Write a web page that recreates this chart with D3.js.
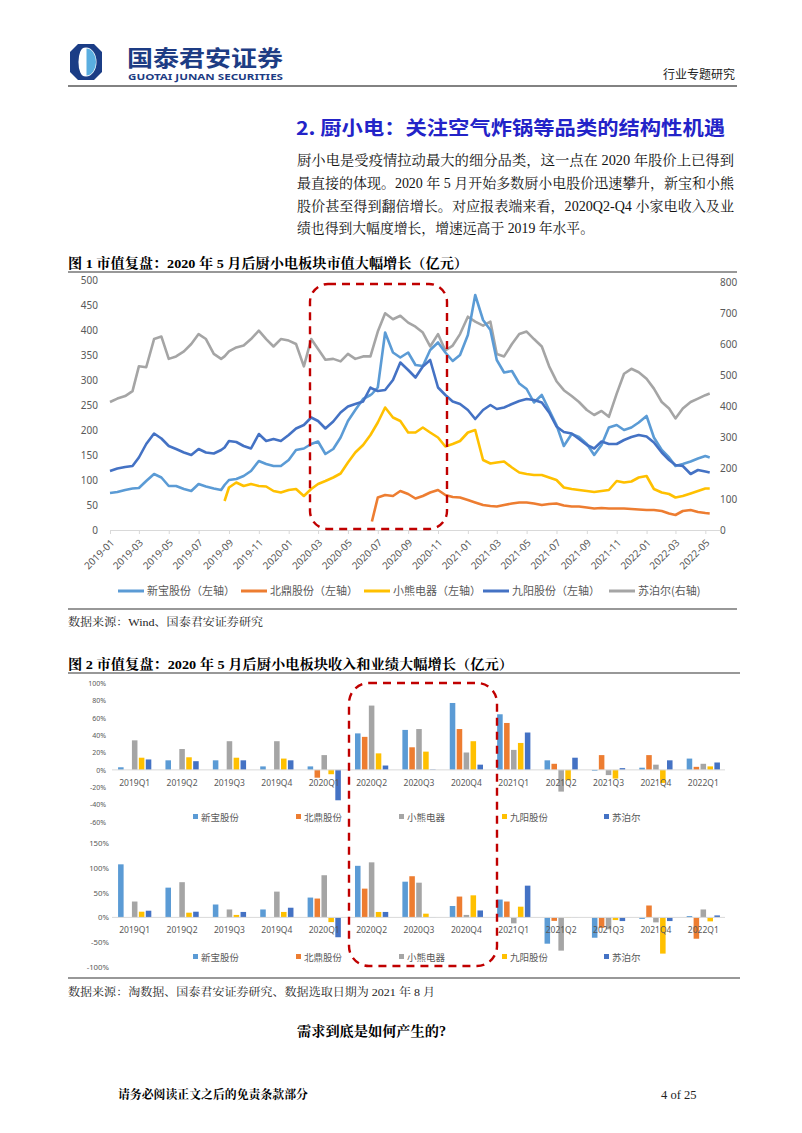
<!DOCTYPE html>
<html>
<head>
<meta charset="utf-8">
<script src="https://cdn.jsdelivr.net/npm/d3@7"></script>
<style>
  body { margin: 0; background: #fff; }
  svg { display: block; }
  .serif { font-family: "Liberation Serif", "Noto Serif CJK SC", "Noto Sans CJK SC", serif; }
  .sans { font-family: "Noto Sans", "Noto Sans CJK SC", sans-serif; }
  .cjk { font-family: "Noto Sans CJK SC", sans-serif; }
</style>
</head>
<body>
<script>
// ---------- figure 1 : market value (亿元), semi-monthly readings ----------
const DATES = [
  "2019-01-01","2019-01-16","2019-02-01","2019-02-16","2019-03-01","2019-03-16","2019-04-01","2019-04-16",
  "2019-05-01","2019-05-16","2019-06-01","2019-06-16","2019-07-01","2019-07-16","2019-08-01","2019-08-16",
  "2019-08-23","2019-09-01","2019-09-16","2019-10-01","2019-10-16","2019-11-01","2019-11-16","2019-12-01","2019-12-16",
  "2020-01-01","2020-01-16","2020-02-01","2020-02-16","2020-03-01","2020-03-16","2020-04-01","2020-04-16",
  "2020-05-01","2020-05-16","2020-06-01","2020-06-16","2020-06-19","2020-07-01","2020-07-16","2020-08-01",
  "2020-08-16","2020-09-01","2020-09-16","2020-10-01","2020-10-16","2020-11-01","2020-11-16","2020-12-01","2020-12-16",
  "2021-01-01","2021-01-16","2021-02-01","2021-02-16","2021-03-01","2021-03-16","2021-04-01","2021-04-16",
  "2021-05-01","2021-05-16","2021-06-01","2021-06-16","2021-07-01","2021-07-16","2021-08-01","2021-08-16",
  "2021-09-01","2021-09-16","2021-10-01","2021-10-16","2021-11-01","2021-11-16","2021-12-01","2021-12-16",
  "2022-01-01","2022-01-16","2022-02-01","2022-02-16","2022-03-01","2022-03-16","2022-04-01","2022-04-16",
  "2022-05-01","2022-05-10"
];
const XINBAO = [
  74,76,80,83,84,98,112,105,88,88,82,78,92,87,83,80,90,100,102,108,118,138,132,128,128,
  140,160,163,172,177,152,162,185,218,240,262,270,272,285,395,355,345,355,330,328,360,375,355,338,350,
  390,470,420,400,340,315,318,293,282,255,270,240,210,168,192,186,172,150,170,205,210,200,205,215,
  228,185,160,145,128,132,137,143,148,145
];
const BEIDING = [
  null,null,null,null,null,null,null,null,null,null,null,null,null,null,null,null,null,null,null,null,null,null,null,null,null,
  null,null,null,null,null,null,null,null,null,null,null,null,17,65,70,68,78,72,63,68,75,80,70,66,65,
  60,55,50,48,47,50,53,55,55,53,50,52,53,49,47,47,45,43,44,43,43,43,42,41,
  40,40,38,33,30,38,40,36,34,33
];
const XIAOXIONG = [
  null,null,null,null,null,null,null,null,null,null,null,null,null,null,null,null,58,85,95,88,92,88,87,78,75,
  80,82,68,82,92,98,105,113,135,155,170,190,195,215,245,225,218,195,195,205,195,185,167,172,178,
  195,200,140,133,135,137,125,115,112,110,110,105,100,85,82,80,78,76,78,80,98,95,97,105,
  108,82,75,72,65,68,73,78,83,83
];
const JIUYANG = [
  118,123,126,128,145,172,193,183,168,162,155,150,162,155,153,160,165,178,176,168,163,192,178,182,178,
  190,203,210,225,218,203,217,235,247,252,257,285,283,278,280,300,335,320,305,327,340,285,270,257,252,
  240,222,240,250,242,245,252,258,262,260,255,235,207,196,193,182,170,163,177,172,172,180,186,190,
  187,175,155,140,130,128,112,120,117,115
];
const SUPOR = [
  413,424,432,448,528,525,616,624,552,560,576,600,632,616,568,552,560,576,589,595,616,643,616,592,616,
  611,600,528,616,584,549,552,544,568,552,560,560,576,640,699,680,691,669,656,637,592,632,579,595,632,
  688,672,659,672,568,560,600,632,640,616,592,528,480,451,432,413,387,371,384,365,440,504,520,509,
  488,456,413,392,360,392,413,424,435,440
];
const LINE_NAMES = ["新宝股份（左轴）","北鼎股份（左轴）","小熊电器（左轴）","九阳股份（左轴）","苏泊尔(右轴)"];
const LEFT_TICKS = [0,50,100,150,200,250,300,350,400,450,500];
const RIGHT_TICKS = [0,100,200,300,400,500,600,700,800];

// ---------- figure 2 : quarterly growth (%) ----------
const QUARTERS = ["2019Q1","2019Q2","2019Q3","2019Q4","2020Q1","2020Q2","2020Q3","2020Q4","2021Q1","2021Q2","2021Q3","2021Q4","2022Q1"];
const COMPANIES = ["新宝股份","北鼎股份","小熊电器","九阳股份","苏泊尔"];
const REV_XINBAO    = [3,11,11,4,4,42,46,77,64,11,-1,2.5,13];
const REV_BEIDING   = [null,null,null,null,-9,38,26,47,54,7,17,17,3.5];
const REV_XIAOXIONG = [34,24,33,33,17,74,47,20,23,-25,-6,6,7];
const REV_JIUYANG   = [14,14.5,14,13,-5,19,21,33,31,-12,-10,-15,4];
const REV_SUPOR     = [12,10,11,11,-35,5,0.5,6,43,14,2,11,8.5];
const PRO_XINBAO    = [107,60,26,16,40,104,72,23,36,-53,-41,-3,2.7];
const PRO_BEIDING   = [null,null,null,null,38,58,83,42,32,-7,-21,24,-43];
const PRO_XIAOXIONG = [32,71,16,52,85,111,70,5,-12,-67,-24,-10,16];
const PRO_JIUYANG   = [11.5,9.5,5,11,-9.5,11,7.5,44.5,21.6,-0.8,-5.4,-73,-8];
const PRO_SUPOR     = [13.5,11.5,11,19.5,-40,11,0.5,14,64,0.3,-7.4,-7.4,4];
const REV_TICKS = [-60,-40,-20,0,20,40,60,80,100];
const PRO_TICKS = [-100,-50,0,50,100,150];

const LINE_COLORS = ["#5B9BD5","#ED7D31","#FFC000","#4472C4","#A5A5A5"];
const BAR_COLORS  = ["#5B9BD5","#ED7D31","#A5A5A5","#FFC000","#4472C4"];
const GRAY_TEXT = "#595959";
const RED = "#C00000";

const svg = d3.select("body").append("svg").attr("width", 802).attr("height", 1133);
svg.append("rect").attr("width", 802).attr("height", 1133).attr("fill", "#fff");

const addText = (x, y, s, size, cls, opts = {}) => {
  const t = svg.append("text").attr("x", x).attr("y", y).attr("class", cls)
    .attr("font-size", size).attr("fill", opts.fill || "#000").text(s);
  if (opts.bold) t.attr("font-weight", "bold");
  if (opts.anchor) t.attr("text-anchor", opts.anchor);
  if (opts.len) t.attr("textLength", opts.len).attr("lengthAdjust", "spacingAndGlyphs");
  return t;
};
const hline = (y, x1, x2, w, c) => svg.append("line").attr("x1", x1).attr("x2", x2)
  .attr("y1", y).attr("y2", y).attr("stroke", c).attr("stroke-width", w);

// ---------- header ----------
const logo = svg.append("g").attr("transform", "translate(86,62)");
logo.append("path").attr("d", "M-8,-18 H8 L16,-10 V10 L8,18 H-8 L-16,10 V-10 Z").attr("fill", "#1b3d86");
logo.append("ellipse").attr("rx", 10.5).attr("ry", 14.5).attr("fill", "#fff");
logo.append("path").attr("d", "M0.5,-13.5 A9.5,13.5 0 0 1 0.5,13.5 Z").attr("fill", "#5aaee0");
logo.append("path").attr("d", "M-1.5,-14.5 A10.5,14.5 0 0 0 -1.5,14.5 A5,12 0 0 1 -1.5,-14.5 Z").attr("fill", "#1b3d86");
addText(127, 66, "国泰君安证券", 22, "cjk", { bold: true, fill: "#1d3c84", len: 156 });
addText(128, 79.5, "GUOTAI JUNAN SECURITIES", 8.5, "sans", { bold: true, fill: "#1d3c84", len: 155 });
addText(735, 79, "行业专题研究", 12, "cjk", { anchor: "end", fill: "#222" });
hline(86, 68, 737, 1.6, "#595959");

// ---------- section text ----------
addText(296, 135, "2. 厨小电：关注空气炸锅等品类的结构性机遇", 19, "cjk", { bold: true, fill: "#2323c8", len: 429 });
const para = [
  ["厨小电是受疫情拉动最大的细分品类，这一点在 2020 年股价上已得到", 437],
  ["最直接的体现。2020 年 5 月开始多数厨小电股价迅速攀升，新宝和小熊", 437],
  ["股价甚至得到翻倍增长。对应报表端来看，2020Q2-Q4 小家电收入及业", 437],
  ["绩也得到大幅度增长，增速远高于 2019 年水平。", 297]
];
para.forEach((p, i) => addText(297, 165 + i * 22.8, p[0], 14, "serif", { len: p[1], fill: "#111" }));

// ---------- figure 1 ----------
addText(68, 268, "图 1 市值复盘：2020 年 5 月后厨小电板块市值大幅增长（亿元）", 13.5, "serif", { bold: true, len: 400 });
hline(272, 68, 737, 1.2, "#333");

const parse = d3.timeParse("%Y-%m-%d");
const x1 = d3.scaleTime().domain([parse("2019-01-01"), parse("2022-05-31")]).range([110, 720]);
const yL = d3.scaleLinear().domain([0, 500]).range([530, 280]);
const yR = d3.scaleLinear().domain([0, 800]).range([530, 282]);

const gL = svg.append("g").attr("transform", "translate(102,0)")
  .call(d3.axisLeft(yL).tickValues(LEFT_TICKS).tickSize(0).tickPadding(4));
const gR = svg.append("g").attr("transform", "translate(716,0)")
  .call(d3.axisRight(yR).tickValues(RIGHT_TICKS).tickSize(0).tickPadding(4));
[gL, gR].forEach(g => {
  g.select(".domain").remove();
  g.selectAll("text").attr("class", "sans").attr("font-size", 10).attr("fill", GRAY_TEXT);
});
const gX = svg.append("g").attr("transform", "translate(0,530)")
  .call(d3.axisBottom(x1).ticks(d3.timeMonth.every(2)).tickFormat(d3.timeFormat("%Y-%m")).tickSize(4).tickSizeOuter(0));
gX.select(".domain").attr("stroke", "#d9d9d9");
gX.selectAll("line").attr("stroke", "#d9d9d9");
gX.selectAll("text").attr("class", "sans").attr("font-size", 10).attr("fill", GRAY_TEXT)
  .attr("text-anchor", "end").attr("x", 0).attr("y", 0).attr("dy", "0.35em")
  .attr("transform", "translate(2,11) rotate(-45)");

const seriesDefs = [
  { vals: SUPOR, y: yR, c: LINE_COLORS[4] },
  { vals: XINBAO, y: yL, c: LINE_COLORS[0] },
  { vals: BEIDING, y: yL, c: LINE_COLORS[1] },
  { vals: XIAOXIONG, y: yL, c: LINE_COLORS[2] },
  { vals: JIUYANG, y: yL, c: LINE_COLORS[3] }
];
seriesDefs.forEach(s => {
  const rows = DATES.map((d, i) => ({ t: parse(d), v: s.vals[i] }));
  const line = d3.line().defined(d => d.v != null).x(d => x1(d.t)).y(d => s.y(d.v));
  svg.append("path").datum(rows).attr("d", line).attr("fill", "none")
    .attr("stroke", s.c).attr("stroke-width", 2.6).attr("stroke-linejoin", "round");
});

const legX1 = [118, 241, 364, 483, 609];
LINE_NAMES.forEach((n, i) => {
  svg.append("line").attr("x1", legX1[i]).attr("x2", legX1[i] + 26).attr("y1", 591).attr("y2", 591)
    .attr("stroke", LINE_COLORS[i]).attr("stroke-width", 3);
  addText(legX1[i] + 29, 595, n, 11, "cjk", { fill: GRAY_TEXT });
});

svg.append("rect").attr("x", 310).attr("y", 284).attr("width", 137).attr("height", 245).attr("rx", 18)
  .attr("fill", "none").attr("stroke", RED).attr("stroke-width", 2.4).attr("stroke-dasharray", "8,6");

hline(609, 68, 737, 1.2, "#333");
addText(68, 626, "数据来源：Wind、国泰君安证券研究", 11, "serif", { len: 195, fill: "#222" });

// ---------- figure 2 ----------
addText(68, 669, "图 2 市值复盘：2020 年 5 月后厨小电板块收入和业绩大幅增长（亿元）", 13.5, "serif", { bold: true, len: 445 });
hline(673, 68, 740, 1.2, "#333");

const x0 = d3.scaleBand().domain(QUARTERS).range([111, 727]).paddingInner(0.24).paddingOuter(0.12);
const xs = d3.scaleBand().domain(COMPANIES).range([0, x0.bandwidth()]).padding(0.2);

const barChart = (arrays, y, ticks, tickFont, labelRight, catY, legY) => {
  const gy = svg.append("g").attr("transform", `translate(${labelRight + 3},0)`)
    .call(d3.axisLeft(y).tickValues(ticks).tickFormat(d => d + "%").tickSize(0).tickPadding(3));
  gy.select(".domain").remove();
  gy.selectAll("text").attr("class", "sans").attr("font-size", tickFont).attr("fill", GRAY_TEXT);

  arrays.forEach((arr, si) => {
    const rows = QUARTERS.map((q, i) => ({ q, v: arr[i] })).filter(d => d.v != null);
    svg.append("g").selectAll("rect").data(rows).enter().append("rect")
      .attr("x", d => x0(d.q) + xs(COMPANIES[si]))
      .attr("y", d => y(Math.max(0, d.v)))
      .attr("width", xs.bandwidth())
      .attr("height", d => Math.abs(y(d.v) - y(0)))
      .attr("fill", BAR_COLORS[si]);
  });
  hline(y(0), 112, 725, 1, "#d9d9d9");

  svg.append("g").selectAll("text").data(QUARTERS).enter().append("text")
    .attr("class", "sans").attr("font-size", 8.5).attr("fill", GRAY_TEXT).attr("text-anchor", "middle")
    .attr("x", d => x0(d) + x0.bandwidth() / 2).attr("y", catY).text(d => d);

  const legX = [193, 296, 399, 502, 604];
  COMPANIES.forEach((c, i) => {
    svg.append("rect").attr("x", legX[i]).attr("y", legY - 3).attr("width", 5).attr("height", 5).attr("fill", BAR_COLORS[i]);
    addText(legX[i] + 8, legY + 3.5, c, 9.5, "cjk", { fill: GRAY_TEXT });
  });
};

const yRev = d3.scaleLinear().domain([-60, 100]).range([822, 683]);
barChart([REV_XINBAO, REV_BEIDING, REV_XIAOXIONG, REV_JIUYANG, REV_SUPOR], yRev, REV_TICKS, 7, 106, 786, 817);
const yPro = d3.scaleLinear().domain([-100, 150]).range([967, 843]);
barChart([PRO_XINBAO, PRO_BEIDING, PRO_XIAOXIONG, PRO_JIUYANG, PRO_SUPOR], yPro, PRO_TICKS, 7.8, 109, 933, 957);

svg.append("rect").attr("x", 349).attr("y", 683).attr("width", 148).attr("height", 283).attr("rx", 20)
  .attr("fill", "none").attr("stroke", RED).attr("stroke-width", 2.4).attr("stroke-dasharray", "8,6");

hline(978, 68, 740, 1.2, "#333");
addText(68, 996, "数据来源：淘数据、国泰君安证券研究、数据选取日期为 2021 年 8 月", 11, "serif", { len: 367, fill: "#222" });

// ---------- footer ----------
addText(297, 1036, "需求到底是如何产生的?", 14, "serif", { bold: true, len: 149 });
addText(118, 1099, "请务必阅读正文之后的免责条款部分", 12, "serif", { bold: true, len: 190 });
addText(661, 1099, "4 of 25", 12.5, "serif", { fill: "#222" });
</script>
</body>
</html>
